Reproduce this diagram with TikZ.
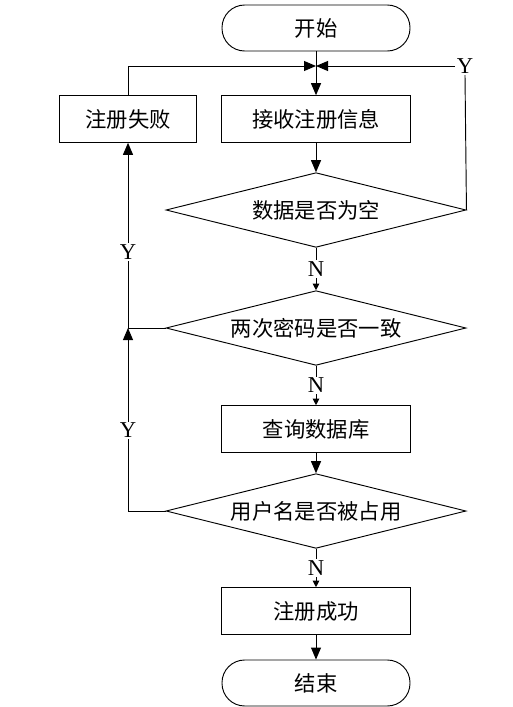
\documentclass[tikz,border=0pt]{standalone}
\usepackage{fontspec}
\setmainfont{Liberation Serif}
\newfontfamily\cjk{Noto Sans CJK SC}
\usetikzlibrary{arrows.meta,positioning,shapes.geometric}

\begin{document}
\begin{tikzpicture}[x=0.75pt,y=-0.75pt,line width=0.7pt,
  font=\cjk\fontsize{16}{19}\selectfont,
  term/.style={draw,rounded corners=17pt,minimum width=141pt,minimum height=34.5pt,inner sep=2pt},
  proc/.style={draw,minimum width=142pt,minimum height=35pt,inner sep=2pt},
  dec/.style={draw,diamond,aspect=4,inner sep=0pt,minimum width=225pt,minimum height=56pt},
  yn/.style={fill=white,inner sep=1pt,font=\rmfamily\fontsize{17}{19}\selectfont},
  arr/.style={-{Triangle[length=9pt,width=7.5pt]}},
  sarr/.style={-{Triangle[length=5pt,width=5pt]}}]
\useasboundingbox (0,0) rectangle (513,707);
\node[term] (start) at (316,28) {开始};
\node[proc] (recv) at (316,119) {接收注册信息};
\node[proc,minimum width=103pt] (fail) at (128,119) {注册失败};
\node[dec] (empty) at (316,210) {数据是否为空};
\node[dec] (same) at (316,328) {两次密码是否一致};
\node[proc] (query) at (316,429) {查询数据库};
\node[dec] (used) at (316,511) {用户名是否被占用};
\node[proc] (ok) at (316,611) {注册成功};
\node[term] (stop) at (316,683) {结束};
\coordinate (j) at (316,66);
\coordinate (m) at (fail.south|-same.west);
\node[yn] (ey) at (465,66) {Y};
% main line
\draw[arr] (start) -- (recv);
\draw[arr] (recv) -- (empty);
\draw[sarr] (empty.south) -- node[yn]{N} (same.north);
\draw[sarr] (same.south) -- node[yn]{N} (query.north);
\draw[arr] (query) -- (used);
\draw[sarr] (used.south) -- node[yn]{N} (ok.north);
\draw[arr] (ok) -- (stop);
% back loops
\draw (empty.east) -- (ey.south);
\draw[arr] (ey.west) -- (j);
\draw[arr] (fail.north) |- (j);
\draw[arr] (same.west) -| node[yn,pos=0.705]{Y} (fail.south);
\draw[arr] (used.west) -| node[yn,pos=0.72]{Y} (m);
\end{tikzpicture}
\end{document}
